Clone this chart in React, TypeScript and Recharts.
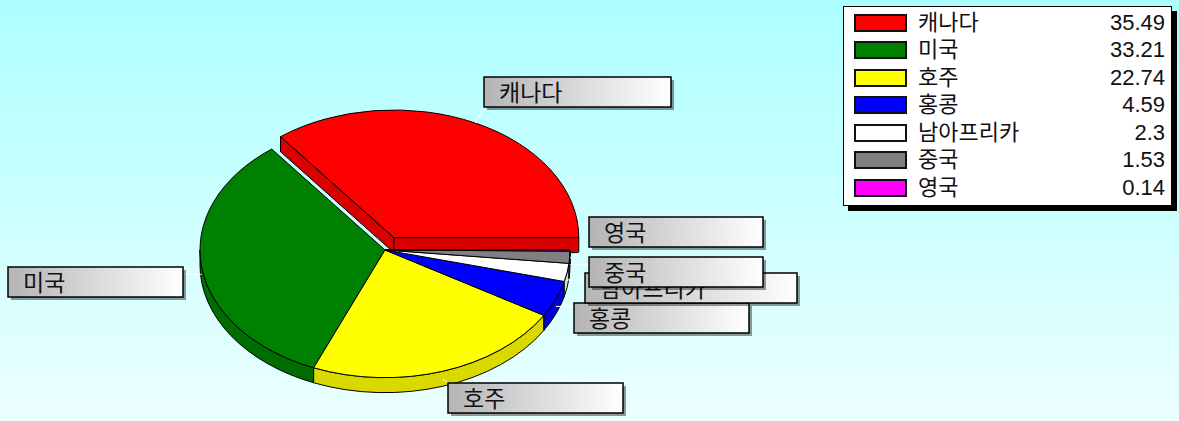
import { PieChart, Pie, Cell, Legend } from 'recharts'

const NAMES = ['캐나다', '미국', '호주', '홍콩', '남아프리카', '중국', '영국']
const VALUES = [35.49, 33.21, 22.74, 4.59, 2.3, 1.53, 0.14]
const COLORS = ['#ff0000', '#008000', '#ffff00', '#0000ff', '#ffffff', '#808080', '#ff00ff']
const EXPLODED = ['캐나다']

const data = NAMES.map((name, i) => ({ name, value: VALUES[i] }))

// where each callout box sits (layout only)
const LABEL_BOX: Record<string, { x: number; y: number; w: number }> = {
  '캐나다': { x: 484, y: 77, w: 187 },
  '미국': { x: 8, y: 267, w: 175 },
  '호주': { x: 448, y: 383, w: 175 },
  '홍콩': { x: 574, y: 303, w: 175 },
  '남아프리카': { x: 585, y: 273, w: 212 },
  '중국': { x: 589, y: 257, w: 174 },
  '영국': { x: 589, y: 217, w: 174 },
}

const FONT = '"Liberation Sans", "Noto Sans CJK KR", sans-serif'
const TILT = 0.69
const DEPTH = 15
const EXPLODE_R = 20
const BOX_H = 30

const rad = (a: number) => (a * Math.PI) / 180

function darken(hex: string, k = 0.85) {
  const n = parseInt(hex.slice(1), 16)
  const r = Math.round(((n >> 16) & 255) * k)
  const g = Math.round(((n >> 8) & 255) * k)
  const b = Math.round((n & 255) * k)
  return `rgb(${r},${g},${b})`
}

function explodeOffset(name: string, mid: number) {
  if (!EXPLODED.includes(name)) return [0, 0]
  return [EXPLODE_R * Math.cos(rad(mid)), -EXPLODE_R * TILT * Math.sin(rad(mid))]
}

function Slice3D(props: any) {
  const { cx, cy, outerRadius: r, startAngle, endAngle, fill } = props
  const name = props.name ?? props.payload?.name
  const [ox, oy] = explodeOffset(name, (startAngle + endAngle) / 2)
  const ccx = cx + ox
  const ccy = cy + oy
  const ry = r * TILT
  const pt = (a: number, dy = 0) => [ccx + r * Math.cos(rad(a)), ccy - ry * Math.sin(rad(a)) + dy]
  const side = darken(fill)
  const walls: any[] = []

  // outer wall on the front half
  const a1 = Math.max(startAngle, 180)
  const a2 = Math.min(endAngle, 360)
  if (a2 > a1) {
    const p1 = pt(a1), p2 = pt(a2), q2 = pt(a2, DEPTH), q1 = pt(a1, DEPTH)
    const large = a2 - a1 > 180 ? 1 : 0
    walls.push(
      <path key="outer" fill={side} stroke="#000" strokeWidth={1}
        d={`M${p1[0]},${p1[1]} A${r},${ry} 0 ${large} 0 ${p2[0]},${p2[1]} L${q2[0]},${q2[1]} A${r},${ry} 0 ${large} 1 ${q1[0]},${q1[1]} Z`} />
    )
  }

  // radial walls of an exploded slice
  if (EXPLODED.includes(name)) {
    const edges = [
      { a: startAngle, n: startAngle - 90 },
      { a: endAngle, n: endAngle + 90 },
    ]
    edges.forEach((e, i) => {
      if (Math.sin(rad(e.n)) < 0) {
        const p = pt(e.a)
        walls.push(
          <path key={`r${i}`} fill={side} stroke="#000" strokeWidth={1}
            d={`M${ccx},${ccy} L${p[0]},${p[1]} L${p[0]},${p[1] + DEPTH} L${ccx},${ccy + DEPTH} Z`} />
        )
      }
    })
  }

  const s = pt(startAngle), e = pt(endAngle)
  const large = endAngle - startAngle > 180 ? 1 : 0
  return (
    <g>
      {walls}
      <path fill={fill} stroke="#000" strokeWidth={1}
        d={`M${ccx},${ccy} L${s[0]},${s[1]} A${r},${ry} 0 ${large} 0 ${e[0]},${e[1]} Z`} />
    </g>
  )
}

function renderLabel(props: any) {
  const { cx, cy, midAngle, outerRadius: r } = props
  const name = props.name ?? props.payload?.name
  const box = LABEL_BOX[name]
  if (!box) return null
  const [ox, oy] = explodeOffset(name, midAngle)
  const front = Math.sin(rad(midAngle)) < 0
  const px = cx + ox + r * Math.cos(rad(midAngle))
  const py = cy + oy - r * TILT * Math.sin(rad(midAngle)) + (front ? DEPTH / 2 : 0)
  const tx = Math.min(Math.max(px, box.x), box.x + box.w)
  const ty = Math.min(Math.max(py, box.y), box.y + BOX_H)
  return (
    <g key={`lbl-${name}`}>
      <line x1={px} y1={py} x2={tx} y2={ty} stroke="#fff" strokeWidth={1} />
      <rect x={box.x + 3} y={box.y + 3} width={box.w} height={BOX_H} fill="#000" opacity={0.4} />
      <rect x={box.x} y={box.y} width={box.w} height={BOX_H} fill="url(#labelGrad)" stroke="#000" strokeWidth={1.5} />
      <text x={box.x + 15} y={box.y + BOX_H / 2 + 1} dominantBaseline="central"
        fontFamily={FONT} fontSize={23} fill="#111">{name}</text>
    </g>
  )
}

function LegendBox() {
  return (
    <div style={{
      width: 327, height: 196, background: '#fff', border: '1px solid #000',
      boxShadow: '5px 5px 0 #000', fontFamily: FONT, fontSize: 22, color: '#111',
      paddingTop: 2, boxSizing: 'content-box',
    }}>
      {NAMES.map((n, i) => (
        <div key={n} style={{ display: 'flex', alignItems: 'center', height: 27.5 }}>
          <div style={{
            marginLeft: 10, width: 49, height: 14, background: COLORS[i],
            border: '2px solid #111',
          }} />
          <span style={{ marginLeft: 11, flex: 1, lineHeight: 1 }}>{n}</span>
          <span style={{ marginRight: 6, lineHeight: 1 }}>{VALUES[i]}</span>
        </div>
      ))}
    </div>
  )
}

export default function App() {
  return (
    <div style={{
      position: 'fixed', left: 0, top: 0, width: 1179, height: 421,
      background: 'linear-gradient(to bottom, #adffff, #ecffff)',
    }}>
      <PieChart width={1179} height={421} margin={{ top: 0, right: 0, bottom: 0, left: 0 }}>
        <defs>
          <linearGradient id="labelGrad" x1="0" y1="0" x2="1" y2="0">
            <stop offset="0%" stopColor="#b4b4b4" />
            <stop offset="100%" stopColor="#ffffff" />
          </linearGradient>
        </defs>
        <Pie
          data={data}
          dataKey="value"
          nameKey="name"
          cx={385}
          cy={250}
          outerRadius={185}
          startAngle={0}
          endAngle={360}
          isAnimationActive={false}
          shape={Slice3D}
          inactiveShape={Slice3D}
          activeShape={Slice3D}
          label={renderLabel}
          labelLine={false}
        >
          {data.map((d, i) => (
            <Cell key={d.name} fill={COLORS[i]} />
          ))}
        </Pie>
        <Legend
          layout="vertical" align="right" verticalAlign="top"
          wrapperStyle={{ position: 'absolute', left: 843, top: 6, width: 335 }}
          content={() => <LegendBox />}
        />
      </PieChart>
    </div>
  )
}
